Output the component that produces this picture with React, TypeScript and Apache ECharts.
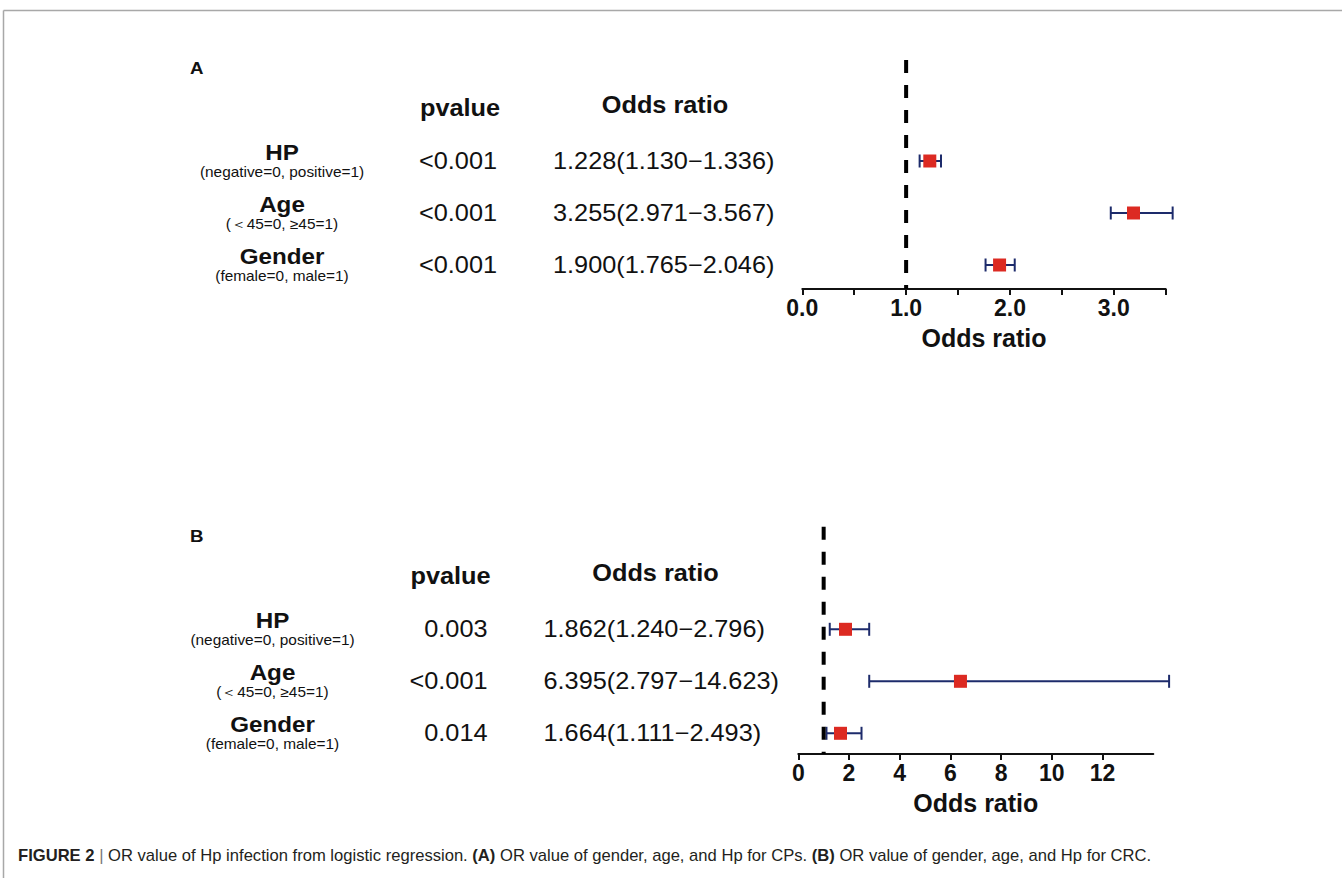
import React, { useEffect, useRef } from 'react';
import * as echarts from 'echarts';

const FONT = '"Liberation Sans", Arial, Helvetica, sans-serif';

// rows (shared by both panels)
const rowNames = ['HP', 'Age', 'Gender'];
const rowNotes = ['(negative=0, positive=1)', '(\uFF1C45=0, \u226545=1)', '(female=0, male=1)'];
const rowPos = [2, 3, 4];

// Panel A (CPs)
const pvalueA = ['<0.001', '<0.001', '<0.001'];
const orTextA = ['1.228(1.130\u22121.336)', '3.255(2.971\u22123.567)', '1.900(1.765\u22122.046)'];
const orPointA = [1.228, 3.19, 1.9];
const orLowA = [1.13, 2.971, 1.765];
const orHighA = [1.336, 3.567, 2.046];
const ticksA = [0, 0.5, 1, 1.5, 2, 2.5, 3, 3.5];
const labelsA = [0, 1, 2, 3];

// Panel B (CRC)
const pvalueB = ['0.003', '<0.001', '0.014'];
const orTextB = ['1.862(1.240\u22122.796)', '6.395(2.797\u221214.623)', '1.664(1.111\u22122.493)'];
const orPointB = [1.862, 6.395, 1.664];
const orLowB = [1.24, 2.797, 1.111];
const orHighB = [2.796, 14.623, 2.493];
const ticksB = [0, 2, 4, 6, 8, 10, 12];
const labelsB = [0, 2, 4, 6, 8, 10, 12];

const refValue = 1;
const axisTitle = 'Odds ratio';
const caption =
  '{b|FIGURE 2} {l||} OR value of Hp infection from logistic regression. {b|(A)} OR value of gender, age, and Hp for CPs. {b|(B)} OR value of gender, age, and Hp for CRC.';

const SX = 1.1;

function txt(text: string, x: number, y: number, size: number, bold: boolean, align: string) {
  return {
    type: 'text',
    x,
    y,
    scaleX: SX,
    silent: true,
    style: {
      text,
      fontSize: size,
      fontWeight: bold ? 'bold' : 'normal',
      fontFamily: FONT,
      fill: '#111',
      align,
      verticalAlign: 'middle',
    },
  };
}

function panelTexts(
  letter: string,
  dy: number,
  dx: number,
  pv: string[],
  ort: string[],
  rowY: number[]
) {
  const els: any[] = [];
  els.push(txt(letter, 190, 68 + dy, 17, true, 'left'));
  els.push(txt('pvalue', 460 + dx, 108 + dy, 23, true, 'center'));
  els.push(txt('Odds ratio', 665 + dx, 105 + dy, 23, true, 'center'));
  rowNames.forEach((n, i) => {
    els.push(txt(n, 282 + dx, rowY[i] - 9, 22, true, 'center'));
    els.push(txt(rowNotes[i], 282 + dx, rowY[i] + 11, 14, false, 'center'));
    els.push(txt(pv[i], 497 + dx, rowY[i], 23, false, 'right'));
    els.push(txt(ort[i], 553 + dx, rowY[i], 23, false, 'left'));
  });
  return els;
}

const errorBarItem = (params: any, api: any) => {
  const lo = api.coord([api.value(0), api.value(2)]);
  const hi = api.coord([api.value(1), api.value(2)]);
  const h = 6.5;
  const style = { stroke: '#1d2b6b', lineWidth: 2 };
  return {
    type: 'group',
    children: [
      { type: 'line', shape: { x1: lo[0], y1: lo[1], x2: hi[0], y2: hi[1] }, style },
      { type: 'line', shape: { x1: lo[0], y1: lo[1] - h, x2: lo[0], y2: lo[1] + h }, style },
      { type: 'line', shape: { x1: hi[0], y1: hi[1] - h, x2: hi[0], y2: hi[1] + h }, style },
    ],
  };
};

function xAxisDef(gridIndex: number, max: number, interval: number, ticks: number[], labels: number[], fmt: (v: number) => string) {
  return {
    type: 'value',
    gridIndex,
    min: 0,
    max,
    interval,
    position: 'bottom',
    axisLine: { onZero: false, lineStyle: { color: '#111', width: 2 } },
    axisTick: { show: true, length: 6, lineStyle: { color: '#111', width: 2 }, customValues: ticks },
    axisLabel: {
      customValues: labels,
      formatter: (v: number) => (labels.indexOf(v) >= 0 ? fmt(v) : ''),
      color: '#111',
      fontSize: 23,
      fontWeight: 'bold',
      fontFamily: FONT,
      margin: 7,
    },
    splitLine: { show: false },
    name: axisTitle,
    nameLocation: 'middle',
    nameGap: 36,
    nameTextStyle: { color: '#111', fontSize: 25, fontWeight: 'bold', fontFamily: FONT },
  };
}

export default function App() {
  const ref = useRef<HTMLDivElement>(null);
  useEffect(() => {
    if (!ref.current) return;
    const chart = echarts.init(ref.current, undefined, { renderer: 'svg' });
    const yMaxA = 232 / 52;
    const yMaxB = 228.7 / 52;
    const option: any = {
      animation: false,
      backgroundColor: '#fff',
      grid: [
        { left: 802.3, top: 57, width: 363.4, height: 232 },
        { left: 798.3, top: 525.3, width: 355, height: 228.7 },
      ],
      xAxis: [
        xAxisDef(0, 3.5, 0.5, ticksA, labelsA, (v) => v.toFixed(1)),
        xAxisDef(1, 14, 2, ticksB, labelsB, (v) => String(v)),
      ],
      yAxis: [
        { type: 'value', gridIndex: 0, min: 0, max: yMaxA, inverse: true, show: false },
        { type: 'value', gridIndex: 1, min: 0, max: yMaxB, inverse: true, show: false },
      ],
      series: [
        {
          type: 'line',
          xAxisIndex: 0,
          yAxisIndex: 0,
          data: [[refValue, 0.06], [refValue, yMaxA]],
          symbol: 'none',
          silent: true,
          lineStyle: { color: '#000', width: 4, type: [13, 12] },
        },
        {
          type: 'line',
          xAxisIndex: 1,
          yAxisIndex: 1,
          data: [[refValue, 0.03], [refValue, yMaxB]],
          symbol: 'none',
          silent: true,
          lineStyle: { color: '#000', width: 4, type: [13, 12] },
        },
        {
          type: 'custom',
          xAxisIndex: 0,
          yAxisIndex: 0,
          renderItem: errorBarItem,
          clip: false,
          encode: { x: [0, 1], y: 2 },
          data: orLowA.map((l, i) => [l, orHighA[i], rowPos[i]]),
          z: 3,
        },
        {
          type: 'custom',
          xAxisIndex: 1,
          yAxisIndex: 1,
          renderItem: errorBarItem,
          clip: false,
          encode: { x: [0, 1], y: 2 },
          data: orLowB.map((l, i) => [l, orHighB[i], rowPos[i]]),
          z: 3,
        },
        {
          type: 'scatter',
          xAxisIndex: 0,
          yAxisIndex: 0,
          symbol: 'rect',
          symbolSize: 13,
          itemStyle: { color: '#dc2a22', opacity: 1 },
          data: orPointA.map((v, i) => [v, rowPos[i]]),
          z: 5,
        },
        {
          type: 'scatter',
          xAxisIndex: 1,
          yAxisIndex: 1,
          symbol: 'rect',
          symbolSize: 13,
          itemStyle: { color: '#dc2a22', opacity: 1 },
          data: orPointB.map((v, i) => [v, rowPos[i]]),
          z: 5,
        },
      ],
      graphic: [
        { type: 'line', silent: true, shape: { x1: 3.5, y1: 10.5, x2: 1342, y2: 10.5 }, style: { stroke: '#a8a8a8', lineWidth: 1.5 } },
        { type: 'line', silent: true, shape: { x1: 3.5, y1: 10.5, x2: 3.5, y2: 878 }, style: { stroke: '#a8a8a8', lineWidth: 1.5 } },
        ...panelTexts('A', 0, 0, pvalueA, orTextA, [161, 213, 265]),
        ...panelTexts('B', 468, -9.5, pvalueB, orTextB, [629, 681, 733]),
        {
          type: 'text',
          x: 18,
          y: 855,
          silent: true,
          style: {
            text: caption,
            fontSize: 16.6,
            fontFamily: FONT,
            fill: '#231f20',
            align: 'left',
            verticalAlign: 'middle',
            rich: {
              b: { fontWeight: 'bold', fontSize: 16.6, fontFamily: FONT, fill: '#231f20' },
              l: { fontSize: 16.6, fontFamily: FONT, fill: '#777' },
            },
          },
        },
      ],
    };
    chart.setOption(option);
    return () => chart.dispose();
  }, []);
  return <div ref={ref} style={{ position: 'absolute', left: 0, top: 0, width: 1342, height: 878 }} />;
}
